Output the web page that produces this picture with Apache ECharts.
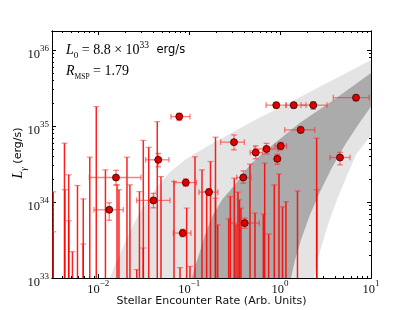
<!DOCTYPE html>
<html><head><meta charset="utf-8">
<script src="https://cdn.jsdelivr.net/npm/echarts@6/dist/echarts.min.js"></script>
<style>html,body{margin:0;padding:0;background:#fff}#c{width:413px;height:310px}</style>
</head><body><div id="c"></div>
<script>
// ---- axis ranges and tick labels ----
const xRange = [0.0031, 10];
const yRange = [1e33, 1.778e36];
const xMajorTicks = [0.01, 0.1, 1, 10];
const yMajorTicks = [1e33, 1e34, 1e35, 1e36];

// ---- model bands [Gamma, L] ----
const outerUpper = [[0.01346,1e33],[0.01528,1.50e33],[0.01824,2.35e33],[0.02234,4.06e33],[0.02735,6.59e33],[0.03524,1.07e34],[0.04539,1.63e34],[0.06152,2.49e34],[0.08995,3.59e34],[0.1531,5.31e34],[0.4667,1.10e35],[1.928,2.64e35],[10,7.39e35]];
const outerLower = [[2.36,1e33],[2.55,1.64e33],[2.89,2.74e33],[3.45,5.50e33],[4.23,1.07e34],[5.31,2.08e34],[6.84,4.17e34],[10,7.64e34]];
const innerUpper = [[0.1066,1e33],[0.1130,1.29e33],[0.1282,2.02e33],[0.1493,3.71e33],[0.1828,6.79e33],[0.2296,1.07e34],[0.3192,1.68e34],[0.4667,3.08e34],[0.7745,5.31e34],[1.656,1.10e35],[4.018,2.27e35],[10,4.99e35]];
const innerLower = [[1.32,1e33],[1.46,1.74e33],[1.70,3.19e33],[2.13,6.79e33],[2.75,1.36e34],[3.72,2.82e34],[5.18,5.65e34],[7.19,1.03e35],[10,1.80e35]];

// ---- upper limits [Gamma, L_upper] ----
const upperLimits = [[0.00320,1.36e34],[0.00320,4.06e33],[0.00425,5.94e34],[0.00430,1.45e34],[0.00473,2.28e34],[0.00473,5.66e33],[0.00520,2.22e33],[0.00591,1.65e34],[0.00684,1.10e34],[0.00684,2.80e33],[0.00807,3.89e34],[0.00951,1.80e35],[0.0120,2.65e34],[0.0161,1.68e34],[0.0169,1.45e34],[0.0207,3.89e34],[0.0223,1.68e34],[0.0265,1.29e33],[0.0284,1.37e34],[0.0313,6.47e34],[0.0313,2.48e33],[0.0359,5.24e34],[0.0446,1.14e35],[0.0490,2.16e34],[0.0681,1.86e34],[0.0793,1.37e33],[0.0939,8.32e33],[0.1021,1.42e33],[0.1159,3.93e34],[0.1384,2.65e34],[0.1558,1.37e34],[0.1716,3.41e34],[0.1948,7.13e34],[0.1948,1.12e34],[0.2060,5.01e33],[0.2721,6.01e33],[0.2834,1.18e34],[0.3135,2.06e34],[0.3273,5.01e33],[0.3443,1.35e34],[0.3577,1.07e34],[0.3715,8.32e33],[0.4667,3.15e34],[0.5297,7.14e33],[0.6535,6.93e33],[0.6771,3.25e34],[0.7492,3.79e33],[0.8635,1.68e34],[0.9727,2.33e34],[1.063,8.65e33],[1.161,1.01e34],[1.554,1.40e34],[2.527,6.92e34],[2.527,1.45e34]];

// ---- detections [Gamma, L, Gamma_lo, Gamma_hi, L_lo, L_hi] ----
const detections = [
 [0.01322,7.90e33,0.00897,0.01885,5.75e33,9.76e33],
 [0.01567,2.10e34,0.00797,0.0295,1.67e34,2.61e34],
 [0.0405,1.05e34,0.02647,0.0615,8.39e33,1.30e34],
 [0.0457,3.59e34,0.0332,0.0600,2.90e34,4.36e34],
 [0.0778,1.33e35,0.0631,0.1021,1.18e35,1.47e35],
 [0.0849,3.90e33,0.0669,0.1047,3.49e33,4.38e33],
 [0.0918,1.80e34,0.0681,0.1204,1.61e34,2.02e34],
 [0.1652,1.35e34,0.1282,0.2075,1.22e34,1.49e34],
 [0.3112,6.13e34,0.2223,0.4042,4.85e34,7.64e34],
 [0.3937,2.10e34,0.3334,0.4786,1.77e34,2.57e34],
 [0.4080,5.28e33,0.2764,0.5908,4.51e33,6.14e33],
 [0.5392,4.47e34,0.4693,0.6407,3.70e34,5.48e34],
 [0.7090,5.00e34,0.5193,0.9490,4.30e34,5.91e34],
 [0.9084,1.88e35,0.700,1.161,1.73e35,2.04e35],
 [0.9317,3.70e34,0.8794,0.998,3.13e34,4.24e34],
 [1.0155,5.45e34,0.8794,1.177,4.85e34,6.09e34],
 [1.412,1.88e35,1.161,1.928,1.73e35,2.04e35],
 [1.685,8.89e34,1.125,2.404,8.11e34,9.73e34],
 [2.319,1.88e35,1.698,3.281,1.66e35,2.09e35],
 [4.560,3.85e34,3.540,5.875,3.08e34,4.50e34],
 [6.839,2.36e35,3.851,9.58,2.14e35,2.56e35]
];

// ---- build chart ----
const lg = Math.log10;
const xMin = lg(xRange[0]), xMax = lg(xRange[1]);
const yMin = lg(yRange[0]), yMax = lg(yRange[1]);
function minors(lo, hi){const o=[];for(let n=Math.floor(lo);n<Math.ceil(hi);n++)for(let k=2;k<=9;k++){const v=n+Math.log10(k);if(v>lo+1e-9&&v<hi-1e-9)o.push(v);}return o;}
const xMaj = xMajorTicks.map(lg), yMaj = yMajorTicks.map(lg);
const xMin_ = minors(xMin,xMax), yMin_ = minors(yMin,yMax);
function sup(v){const e=Math.round(v);return '{b|10}{s|'+(e<0?'\u2212'+(-e):e)+'}';}
const SERIF='Liberation Serif', SANS='DejaVu Sans';
const tickRich = {
  b:{fontFamily:SERIF,fontSize:12.5,color:'#111',verticalAlign:'bottom',lineHeight:17},
  s:{fontFamily:SERIF,fontSize:9,color:'#111',verticalAlign:'top',lineHeight:17}
};
function axis(kind,pos,major,label){
  const isX = kind==='x';
  return {type:'value',position:pos,min:isX?xMin:yMin,max:isX?xMax:yMax,
    axisLine:{show:true,onZero:false,lineStyle:{color:'#000',width:1}},
    axisTick:{show:true,inside:true,length:major?4:2,customValues:major?(isX?xMaj:yMaj):(isX?xMin_:yMin_),lineStyle:{color:'#000',width:1}},
    axisLabel:{show:label,customValues:isX?xMaj:yMaj,formatter:sup,margin:isX?1:3,padding:isX?0:[6,0,0,0],rich:tickRich},
    splitLine:{show:false},minorTick:{show:false},axisPointer:{show:false}};
}
const bandData = [[outerUpper,outerLower,'#e4e4e4'],[innerUpper,innerLower,'#ababab']];
const LIM='rgba(255,0,0,0.88)', CAP='rgba(255,40,40,0.55)', ERR='rgba(255,40,40,0.6)';

const chart = echarts.init(document.getElementById('c'),null,{renderer:'canvas'});
chart.setOption({
  animation:false,
  grid:{left:52,right:42,top:31,bottom:32,containLabel:false},
  xAxis:[axis('x','bottom',true,true),axis('x','bottom',false,false),axis('x','top',true,false),axis('x','top',false,false)],
  yAxis:[axis('y','left',true,true),axis('y','left',false,false),axis('y','right',true,false),axis('y','right',false,false)],
  series:[
    {type:'custom',xAxisIndex:0,yAxisIndex:0,silent:true,clip:true,z:1,
     data:[[xMin,yMin],[xMin,yMin]],
     renderItem:(p,api)=>{const b=bandData[p.dataIndex];
       const pts=b[0].concat(b[1].slice().reverse()).map(d=>api.coord([lg(d[0]),lg(d[1])]));
       return {type:'polygon',shape:{points:pts},style:{fill:b[2],stroke:null}};}},
    {type:'custom',xAxisIndex:0,yAxisIndex:0,silent:true,clip:true,z:3,
     data:upperLimits.map(d=>[lg(d[0]),lg(d[1])]),
     renderItem:(p,api)=>{const c=api.coord([api.value(0),api.value(1)]);const bot=p.coordSys.y+p.coordSys.height;
       return {type:'group',children:[
        {type:'line',shape:{x1:c[0],y1:bot,x2:c[0],y2:c[1]},style:{stroke:LIM,lineWidth:1.5}},
        {type:'line',shape:{x1:c[0]-3,y1:c[1],x2:c[0]+3,y2:c[1]},style:{stroke:CAP,lineWidth:1.2}}]};}},
    {type:'custom',xAxisIndex:0,yAxisIndex:0,silent:true,clip:true,z:4,
     data:detections.map(d=>d.map(lg)),
     renderItem:(p,api)=>{const c=api.coord([api.value(0),api.value(1)]);
       const xl=api.coord([api.value(2),api.value(1)])[0],xr=api.coord([api.value(3),api.value(1)])[0];
       const yl=api.coord([api.value(0),api.value(4)])[1],yh=api.coord([api.value(0),api.value(5)])[1];
       const st={stroke:ERR,lineWidth:1.3},k=2.8;
       return {type:'group',children:[
        {type:'line',shape:{x1:xl,y1:c[1],x2:xr,y2:c[1]},style:st},
        {type:'line',shape:{x1:xl,y1:c[1]-k,x2:xl,y2:c[1]+k},style:st},
        {type:'line',shape:{x1:xr,y1:c[1]-k,x2:xr,y2:c[1]+k},style:st},
        {type:'line',shape:{x1:c[0],y1:yl,x2:c[0],y2:yh},style:st},
        {type:'line',shape:{x1:c[0]-k,y1:yl,x2:c[0]+k,y2:yl},style:st},
        {type:'line',shape:{x1:c[0]-k,y1:yh,x2:c[0]+k,y2:yh},style:st}]};}},
    {type:'scatter',xAxisIndex:0,yAxisIndex:0,silent:true,z:5,symbol:'circle',symbolSize:7,
     itemStyle:{color:'#dd0000',borderColor:'#300000',borderWidth:0.8,opacity:1},
     data:detections.map(d=>[lg(d[0]),lg(d[1])])}
  ],
  graphic:[
    {type:'text',x:66,y:50,style:{text:'{i|L}{sub|0}{m| = 8.8 \u00d7 10}{sup|33}{sf|  erg/s}',verticalAlign:'middle',
      rich:{i:{fontFamily:SERIF,fontStyle:'italic',fontSize:14,color:'#222',verticalAlign:'middle',lineHeight:20},
            sub:{fontFamily:SERIF,fontSize:9,color:'#222',verticalAlign:'bottom',lineHeight:20},
            m:{fontFamily:SERIF,fontSize:14,color:'#222',verticalAlign:'middle',lineHeight:20},
            sup:{fontFamily:SERIF,fontSize:9.5,color:'#222',verticalAlign:'top',lineHeight:20},
            sf:{fontFamily:SANS,fontSize:11.5,color:'#222',verticalAlign:'middle',lineHeight:20}}}},
    {type:'text',x:66,y:71,style:{text:'{i|R}{sub|MSP}{m| = 1.79}',verticalAlign:'middle',
      rich:{i:{fontFamily:SERIF,fontStyle:'italic',fontSize:14,color:'#222',verticalAlign:'middle',lineHeight:20},
            sub:{fontFamily:SERIF,fontSize:7.5,color:'#222',verticalAlign:'bottom',lineHeight:20},
            m:{fontFamily:SERIF,fontSize:14,color:'#222',verticalAlign:'middle',lineHeight:20}}}},
    {type:'text',x:18,y:153,rotation:Math.PI/2,style:{text:'{i|L}{sub|\u03b3}{sf| (erg/s)}',align:'center',verticalAlign:'middle',
      rich:{i:{fontFamily:SERIF,fontStyle:'italic',fontSize:14,color:'#111',verticalAlign:'middle',lineHeight:20},
            sub:{fontFamily:SERIF,fontStyle:'italic',fontSize:9,color:'#111',verticalAlign:'bottom',lineHeight:20},
            sf:{fontFamily:SANS,fontSize:11,color:'#111',verticalAlign:'middle',lineHeight:20}}}},
    {type:'text',x:211.5,y:301,style:{text:'Stellar Encounter Rate (Arb. Units)',align:'center',verticalAlign:'middle',
      fontFamily:SANS,fontSize:11,fill:'#111'}}
  ]
});
</script></body></html>
